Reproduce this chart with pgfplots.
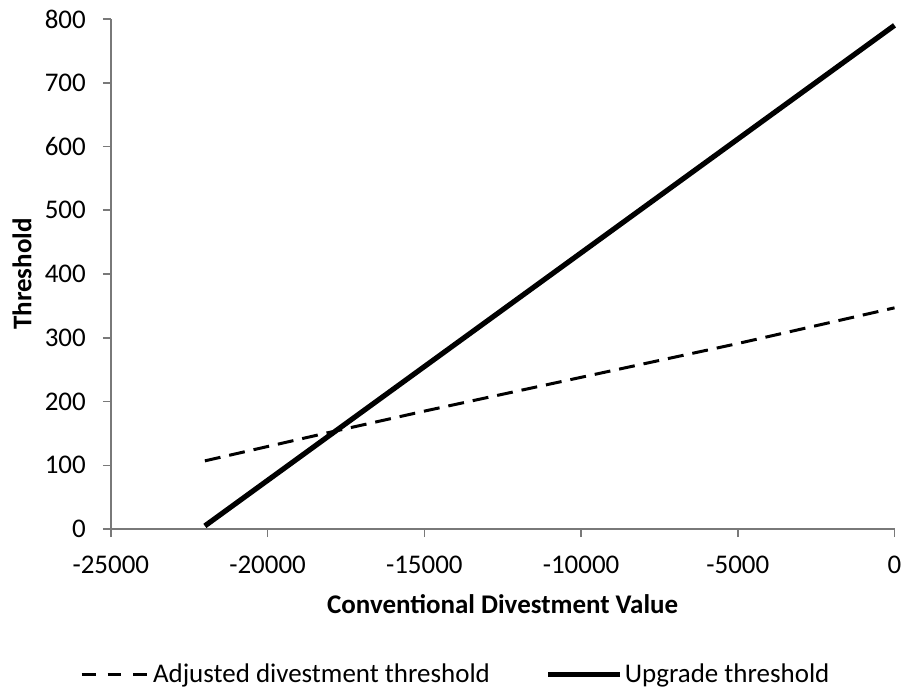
\documentclass[border=0pt]{standalone}
\usepackage{pgfplots}
\pgfplotsset{compat=1.18}
\usepackage{fontspec}
\setmainfont{Carlito}
\begin{document}
\begin{tikzpicture}
\begin{axis}[
  name=ax,
  scale only axis,
  width=392.5pt, height=255.5pt,
  xmin=-25000, xmax=0, ymin=0, ymax=800,
  xtick={-25000,-20000,...,0},
  ytick={0,100,...,800},
  axis x line=bottom, axis y line=left,
  axis line style={-, draw=gray!95!black, line width=0.8pt},
  tick style={draw=gray!95!black, line width=0.8pt},
  tick align=outside, major tick length=4pt,
  font=\fontsize{13.5pt}{16pt}\selectfont,
  /pgf/number format/assume math mode=true,
  /pgf/number format/1000 sep={},
  scaled x ticks=false,
  xticklabel style={yshift=-6pt},
  yticklabel style={xshift=-5pt},
  xlabel={\bfseries Conventional Divestment Value},
  ylabel={\bfseries Threshold},
  xlabel style={at={(axis description cs:0.5,0)}, anchor=center, yshift=-37.5pt},
  ylabel style={at={(axis description cs:0,0.5)}, anchor=center, yshift=44.5pt},
  legend style={at={(0.44,-0.285)}, anchor=center, legend columns=2, draw=none,
    font=\fontsize{13.5pt}{16pt}\selectfont,
    /tikz/every even column/.append style={column sep=27pt},
    nodes={inner sep=1pt}},
  clip=false,
]
\addplot[black, line width=1.5pt, dash pattern=on 8pt off 4.5pt,
  legend image code/.code={\draw[black, line width=1.6pt, dash pattern=on 7pt off 6pt] (0pt,0pt) -- (34pt,0pt);}] coordinates {
(-22000,107) (-18000,152) (-15000,185) (-10000,238) (-5000,291) (0,347)};
\addlegendentry{Adjusted divestment threshold}
\addplot[black, line width=2.6pt,
  legend image code/.code={\draw[black, line width=2.6pt] (0pt,0pt) -- (36pt,0pt);}] coordinates {(-22000,5) (0,790)};
\addlegendentry{Upgrade threshold}
\end{axis}
\path (ax.south west) ++(-55.5pt,-82.5pt);
\path (ax.north east) ++(6pt,9.5pt);
\end{tikzpicture}
\end{document}
